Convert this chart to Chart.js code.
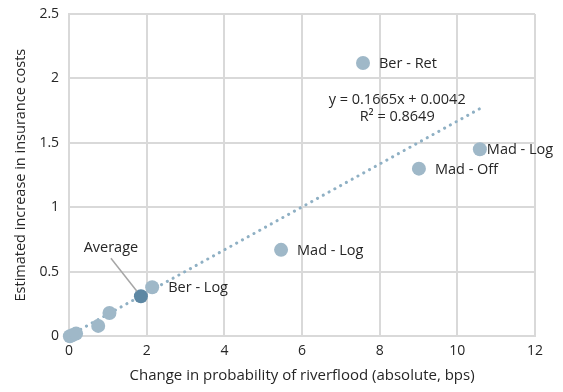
<!DOCTYPE html>
<html>
<head>
<meta charset="utf-8">
<script src="https://cdn.jsdelivr.net/npm/chart.js@4/dist/chart.umd.min.js"></script>
<style>
  body { margin: 0; background: #fff; }
  #wrap { width: 563px; height: 392px; }
</style>
</head>
<body>
<div id="wrap"><canvas id="chart" width="563" height="392"></canvas></div>
<script>
// city - sector observations
var probChange = [0.02, 0.1, 0.18, 0.75, 1.04, 2.14, 5.46, 9.01, 10.58, 7.57];
var costIncrease = [0.0, 0.01, 0.02, 0.08, 0.18, 0.38, 0.67, 1.30, 1.45, 2.12];
var pointNames = ["", "", "", "", "", "Ber - Log", "Mad - Log", "Mad - Off", "Mad - Log", "Ber - Ret"];

// average of all observations
var avgX = [1.85];
var avgY = [0.31];

// linear fit shown on the chart
var trendSlope = 0.1665;
var trendIntercept = 0.0042;
var trendRange = [0, 10.6];
var trendText = ["y = 0.1665x + 0.0042", "R\u00b2 = 0.8649"];

var FONT = "'Open Sans', sans-serif";

var pts = [];
for (var i = 0; i < probChange.length; i++) {
    pts.push({ x: probChange[i], y: costIncrease[i] });
}
var avgPts = avgX.map(function(x, i) { return { x: x, y: avgY[i] }; });
var trendPts = trendRange.map(function(x) { return { x: x, y: trendSlope * x + trendIntercept }; });

var labelPlugin = {
    id: 'labels',
    afterDatasetsDraw: function(chart) {
        var ctx = chart.ctx;
        var xs = chart.scales.x, ys = chart.scales.y;
        ctx.save();
        ctx.font = "14.5px " + FONT;
        ctx.fillStyle = "#262626";
        ctx.textBaseline = "middle";
        ctx.textAlign = "left";

        var meta = chart.getDatasetMeta(0);
        meta.data.forEach(function(el, i) {
            var name = pointNames[i];
            if (!name) return;
            // the upper Mad - Log label sits tight against its dot
            var gap = (i == 8) ? 7 : 16;
            ctx.fillText(name, el.x + gap, el.y + 1);
        });

        // "Average" callout with leader line
        var a = chart.getDatasetMeta(1).data[0];
        ctx.strokeStyle = "#a6a6a6";
        ctx.lineWidth = 1.5;
        ctx.beginPath();
        ctx.moveTo(a.x - 4, a.y - 5);
        ctx.lineTo(a.x - 30, a.y - 38);
        ctx.stroke();
        ctx.textAlign = "center";
        ctx.fillText("Average", a.x - 30, a.y - 48);

        // trend equation
        var ex = xs.getPixelForValue(8.45);
        var ey = ys.getPixelForValue(1.83);
        ctx.fillText(trendText[0], ex, ey);
        ctx.fillText(trendText[1], ex, ey + 17);
        ctx.restore();
    }
};

var ctx = document.getElementById("chart").getContext("2d");
new Chart(ctx, {
    type: 'scatter',
    data: {
        datasets: [
            {
                label: 'Observations',
                data: pts,
                backgroundColor: '#9fb8c8',
                borderWidth: 0,
                pointRadius: 7,
                clip: false,
                order: 1
            },
            {
                label: 'Average',
                data: avgPts,
                backgroundColor: '#5d87a3',
                borderWidth: 0,
                pointRadius: 7,
                clip: false,
                order: 0
            },
            {
                type: 'line',
                label: 'Trend',
                data: trendPts,
                borderColor: '#8fb0c4',
                borderWidth: 3,
                borderDash: [0.1, 6.5],
                borderCapStyle: 'round',
                pointRadius: 0,
                fill: false,
                order: 2
            }
        ]
    },
    options: {
        responsive: false,
        animation: false,
        layout: { padding: { top: 0, right: 28, left: 12, bottom: 3 } },
        plugins: {
            legend: { display: false },
            tooltip: { enabled: false }
        },
        scales: {
            x: {
                type: 'linear',
                min: 0,
                max: 12,
                ticks: {
                    stepSize: 2,
                    color: '#262626',
                    font: { family: FONT, size: 14 },
                    padding: 6
                },
                grid: { color: '#d9d9d9', lineWidth: 2, drawTicks: false },
                border: { color: '#d9d9d9', width: 2 },
                title: {
                    display: true,
                    text: 'Change in probability of riverflood (absolute, bps)',
                    color: '#262626',
                    font: { family: FONT, size: 15 },
                    padding: { top: 2 }
                }
            },
            y: {
                min: 0,
                max: 2.5,
                afterFit: function(scale) {
                    // keep the plot top close to the canvas edge
                    scale.paddingTop = 14;
                },
                ticks: {
                    stepSize: 0.5,
                    color: '#262626',
                    font: { family: FONT, size: 14 },
                    padding: 10,
                    callback: function(v) { return String(v); }
                },
                grid: { color: '#d9d9d9', lineWidth: 2, drawTicks: false },
                border: { color: '#d9d9d9', width: 2 },
                title: {
                    display: true,
                    text: 'Estimated increase in insurance costs',
                    color: '#262626',
                    font: { family: FONT, size: 14.5 },
                    padding: { top: 0, bottom: 0 }
                }
            }
        }
    },
    plugins: [labelPlugin]
});
</script>
</body>
</html>
